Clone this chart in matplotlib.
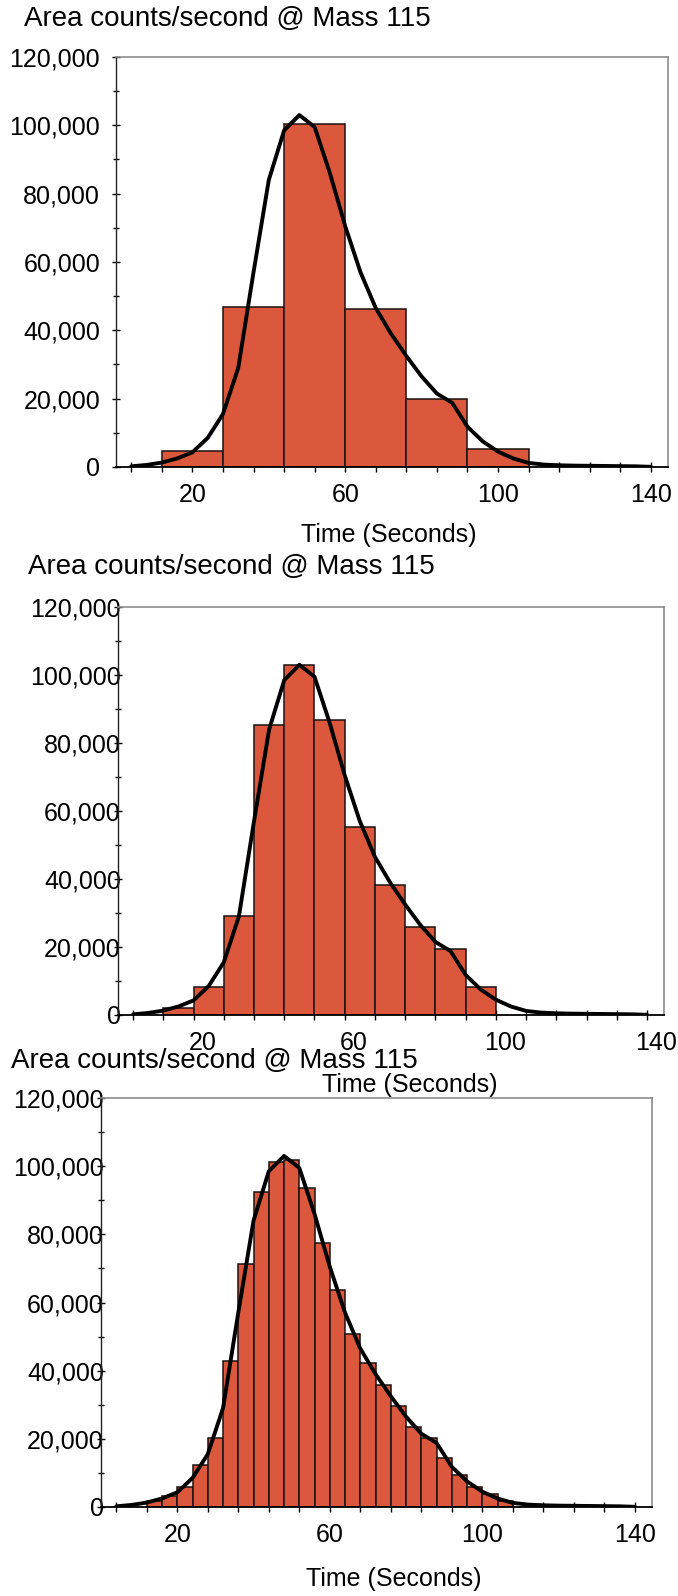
import matplotlib
matplotlib.use("Agg")
import matplotlib.pyplot as plt
import matplotlib.transforms as mtransforms
from matplotlib.ticker import FixedLocator, MultipleLocator, FuncFormatter

plt.rcParams['font.family'] = ['Liberation Sans', 'DejaVu Sans']

# smooth detector trace: time (s) vs area counts/second
curve_t = [4, 8, 12, 16, 20, 24, 28, 32, 36, 40, 44, 48, 52, 56, 60, 64, 68,
           72, 76, 80, 84, 88, 92, 96, 100, 104, 108, 112, 116, 120, 124, 128,
           132, 136, 140]
curve_y = [200, 600, 1300, 2500, 4300, 8500, 15500, 29000, 57000, 84000,
           98500, 103000, 99500, 86000, 70500, 57000, 46500, 39000, 32500,
           26500, 21500, 18800, 11800, 7500, 4500, 2500, 1200, 700, 500, 400,
           350, 300, 250, 200, 50]

# 16 s bins
bins16 = [12, 28, 44, 60, 76, 92]
counts16 = [4700, 46900, 100400, 46100, 19900, 5400]

# 8 s bins
bins8 = [12, 20, 28, 36, 44, 52, 60, 68, 76, 84, 92]
counts8 = [2000, 8300, 29200, 85400, 103000, 86700, 55200, 38300, 26000,
           19400, 8100]

# 4 s bins
bins4 = [12, 16, 20, 24, 28, 32, 36, 40, 44, 48, 52, 56, 60, 64, 68, 72, 76,
         80, 84, 88, 92, 96, 100, 104]
counts4 = [1900, 3200, 6000, 12200, 20300, 42900, 71200, 92300, 101200,
           101700, 93600, 77400, 63700, 50900, 42300, 35700, 29500, 23600,
           20100, 14300, 9500, 5900, 3900, 1700]

title = "Area counts/second @ Mass 115"
xlabel = "Time (Seconds)"
xlabels_shown = [20, 60, 100, 140]

W, H = 678, 1596
BAR = '#dc583d'

fig = plt.figure(figsize=(W / 100, H / 100), dpi=100)


def px_rect(left, right, top, bottom):
    return [left / W, 1 - bottom / H, (right - left) / W, (bottom - top) / H]


def panel(rect, starts, counts, width, ypad, xshift=0):
    ax = fig.add_axes(rect)
    ax.bar(starts, counts, width=width, align='edge', color=BAR,
           edgecolor='#1c1210', linewidth=1.1, zorder=2)
    ax.plot(curve_t, curve_y, color='black', lw=2.8, zorder=3,
            solid_joinstyle='round', solid_capstyle='round')
    ax.set_xlim(0, 144.5)
    ax.set_ylim(0, 120000)

    ax.xaxis.set_major_locator(FixedLocator(list(range(4, 141, 8))))
    ax.xaxis.set_major_formatter(FuncFormatter(
        lambda v, p: str(int(round(v))) if int(round(v)) in xlabels_shown else ''))
    ax.yaxis.set_major_locator(MultipleLocator(20000))
    ax.yaxis.set_minor_locator(MultipleLocator(10000))
    ax.yaxis.set_major_formatter(FuncFormatter(lambda v, p: f'{int(v):,}'))

    ax.tick_params(axis='x', direction='inout', length=7, width=1,
                   labelsize=18, pad=8)
    ax.tick_params(axis='y', which='major', direction='inout', length=6,
                   width=1, labelsize=18, pad=ypad)
    ax.tick_params(axis='y', which='minor', direction='inout', length=4,
                   width=1)
    ax.tick_params(top=False, right=False)

    if xshift:
        off = mtransforms.ScaledTranslation(xshift / 100, 0, fig.dpi_scale_trans)
        for lab in ax.get_xticklabels():
            lab.set_transform(lab.get_transform() + off)

    for s in ('top', 'right'):
        ax.spines[s].set_color('#8c8c8c')
        ax.spines[s].set_linewidth(1.2)
    ax.spines['left'].set_color('#222222')
    ax.spines['left'].set_linewidth(1.0)
    ax.spines['bottom'].set_color('black')
    ax.spines['bottom'].set_linewidth(1.3)
    return ax


panel(px_rect(116, 668, 57, 467), bins16, counts16, 16, 8.5)
panel(px_rect(118, 664, 607, 1015), bins8, counts8, 8, -5, xshift=9)
panel(px_rect(101, 652, 1098, 1507), bins4, counts4, 4, -5)

for (tx, ty) in [(24, 19), (28, 567), (11, 1061)]:
    fig.text(tx / W, 1 - ty / H, title, ha='left', va='center', fontsize=20)
for (lx, ly) in [(389, 535), (410, 1085), (394, 1579)]:
    fig.text(lx / W, 1 - ly / H, xlabel, ha='center', va='center', fontsize=18)

fig.savefig('out.png', dpi=100, facecolor='white')
